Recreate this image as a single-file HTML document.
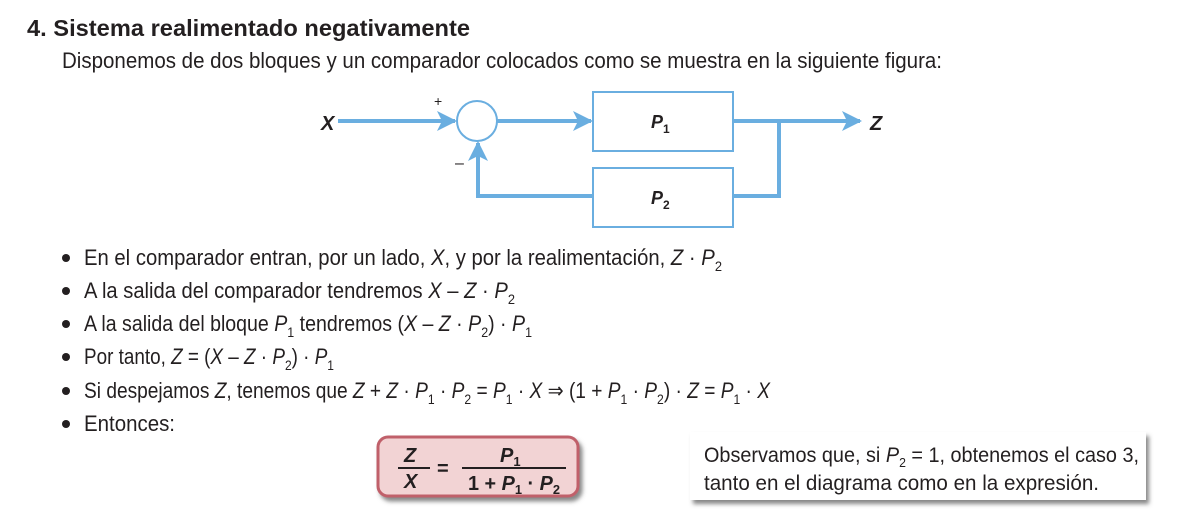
<!DOCTYPE html>
<html><head><meta charset="utf-8"><style>
html,body{margin:0;padding:0;background:#fff;}
svg{display:block;}
text{font-family:"Liberation Sans",sans-serif;fill:#231f20;}
.i{font-style:italic;}
</style></head><body>
<svg width="1186" height="518" viewBox="0 0 1186 518" xmlns="http://www.w3.org/2000/svg">
<defs>
<filter id="sh" x="-10%" y="-10%" width="130%" height="140%"><feDropShadow dx="3" dy="4" stdDeviation="2" flood-color="#555" flood-opacity="0.7"/></filter>
<marker id="ar" viewBox="0 0 10 10" refX="9" refY="5" markerWidth="5" markerHeight="5" orient="auto" markerUnits="strokeWidth"><path d="M0,0 L10,5 L0,10 L2.5,5 z" fill="#6aaee0"/></marker>
</defs>
<text x="27" y="36" font-size="23" font-weight="bold" textLength="443" lengthAdjust="spacingAndGlyphs">4.  Sistema realimentado negativamente</text>
<text x="62" y="68" font-size="22" textLength="880" lengthAdjust="spacingAndGlyphs">Disponemos de dos bloques y un comparador colocados como se muestra en la siguiente figura:</text>

<g stroke="#6aaee0" fill="none">
<rect x="593" y="92" width="140" height="59" stroke-width="2"/>
<rect x="593" y="168" width="140" height="59" stroke-width="2"/>
<circle cx="477" cy="121" r="20" stroke-width="2"/>
<g stroke-width="4">
<line x1="338" y1="121" x2="455" y2="121" marker-end="url(#ar)"/>
<line x1="497" y1="121" x2="591" y2="121" marker-end="url(#ar)"/>
<line x1="733" y1="121" x2="860" y2="121" marker-end="url(#ar)"/>
<polyline points="733,196 779,196 779,121"/>
<polyline points="593,196 478,196 478,143" marker-end="url(#ar)"/>
</g>
</g>
<text x="321" y="130" font-size="20" font-weight="bold" class="i">X</text>
<text x="870" y="130" font-size="20" font-weight="bold" class="i">Z</text>
<text x="434" y="106" font-size="14">+</text>
<text x="455" y="168" font-size="16">–</text>
<text x="651" y="128" font-size="18" font-weight="bold" class="i">P<tspan font-size="12" dy="5" font-style="normal">1</tspan></text>
<text x="651" y="204" font-size="18" font-weight="bold" class="i">P<tspan font-size="12" dy="5" font-style="normal">2</tspan></text>

<g fill="#231f20">
<circle cx="66" cy="258" r="4"/><circle cx="66" cy="291" r="4"/><circle cx="66" cy="324" r="4"/>
<circle cx="66" cy="357" r="4"/><circle cx="66" cy="391" r="4"/><circle cx="66" cy="424" r="4"/>
</g>
<g font-size="22">
<text x="84" y="265" textLength="638" lengthAdjust="spacingAndGlyphs">En el comparador entran, por un lado, <tspan class="i">X</tspan>, y por la realimentación, <tspan class="i">Z</tspan> · <tspan class="i">P</tspan><tspan font-size="14" dy="6">2</tspan></text>
<text x="84" y="298" textLength="431" lengthAdjust="spacingAndGlyphs">A la salida del comparador tendremos <tspan class="i">X</tspan> – <tspan class="i">Z</tspan> · <tspan class="i">P</tspan><tspan font-size="14" dy="6">2</tspan></text>
<text x="84" y="331" textLength="448" lengthAdjust="spacingAndGlyphs">A la salida del bloque <tspan class="i">P</tspan><tspan font-size="14" dy="6">1</tspan><tspan dy="-6"> tendremos (</tspan><tspan class="i">X</tspan> – <tspan class="i">Z</tspan> · <tspan class="i">P</tspan><tspan font-size="14" dy="6">2</tspan><tspan dy="-6">) · </tspan><tspan class="i">P</tspan><tspan font-size="14" dy="6">1</tspan></text>
<text x="84" y="364" textLength="250" lengthAdjust="spacingAndGlyphs">Por tanto, <tspan class="i">Z</tspan> = (<tspan class="i">X</tspan> – <tspan class="i">Z</tspan> · <tspan class="i">P</tspan><tspan font-size="14" dy="6">2</tspan><tspan dy="-6">) · </tspan><tspan class="i">P</tspan><tspan font-size="14" dy="6">1</tspan></text>
<text x="84" y="398" textLength="686" lengthAdjust="spacingAndGlyphs">Si despejamos <tspan class="i">Z</tspan>, tenemos que <tspan class="i">Z</tspan> + <tspan class="i">Z</tspan> · <tspan class="i">P</tspan><tspan font-size="14" dy="6">1</tspan><tspan dy="-6"> · </tspan><tspan class="i">P</tspan><tspan font-size="14" dy="6">2</tspan><tspan dy="-6"> = </tspan><tspan class="i">P</tspan><tspan font-size="14" dy="6">1</tspan><tspan dy="-6"> · </tspan><tspan class="i">X</tspan> ⇒ (1 + <tspan class="i">P</tspan><tspan font-size="14" dy="6">1</tspan><tspan dy="-6"> · </tspan><tspan class="i">P</tspan><tspan font-size="14" dy="6">2</tspan><tspan dy="-6">) · </tspan><tspan class="i">Z</tspan> = <tspan class="i">P</tspan><tspan font-size="14" dy="6">1</tspan><tspan dy="-6"> · </tspan><tspan class="i">X</tspan></text>
<text x="84" y="431" textLength="91" lengthAdjust="spacingAndGlyphs">Entonces:</text>
</g>

<rect x="378" y="437" width="200" height="59" rx="10" fill="#f2d3d4" stroke="#c0616a" stroke-width="3" filter="url(#sh)"/>
<g font-weight="bold" font-size="20">
<text x="404" y="462" class="i">Z</text>
<text x="404" y="488" class="i">X</text>
<line x1="398" y1="468" x2="430" y2="468" stroke="#231f20" stroke-width="2"/>
<text x="437" y="475">=</text>
<text x="500" y="462" class="i">P<tspan font-size="13" dy="4" font-style="normal">1</tspan></text>
<line x1="462" y1="468" x2="566" y2="468" stroke="#231f20" stroke-width="2"/>
<text x="468" y="490" textLength="92" lengthAdjust="spacingAndGlyphs">1 + <tspan class="i">P</tspan><tspan font-size="13" dy="4">1</tspan><tspan dy="-4"> · </tspan><tspan class="i">P</tspan><tspan font-size="13" dy="4">2</tspan></text>
</g>

<rect x="690" y="432" width="456" height="68" fill="#fff" filter="url(#sh)"/>
<g font-size="21">
<text x="704" y="462" textLength="435" lengthAdjust="spacingAndGlyphs">Observamos que, si <tspan class="i">P</tspan><tspan font-size="13" dy="5">2</tspan><tspan dy="-5"> = 1, obtenemos el caso 3,</tspan></text>
<text x="704" y="490" textLength="395" lengthAdjust="spacingAndGlyphs">tanto en el diagrama como en la expresión.</text>
</g>
</svg>
</body></html>
